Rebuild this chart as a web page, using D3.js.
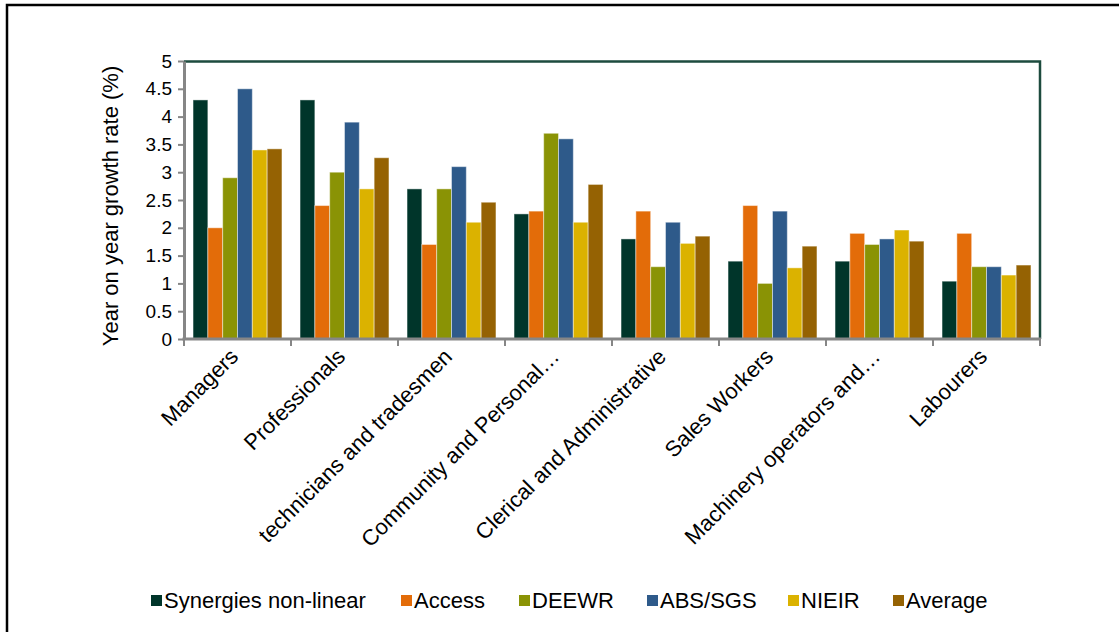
<!DOCTYPE html>
<html>
<head>
<meta charset="utf-8">
<script src="https://cdn.jsdelivr.net/npm/d3@7"></script>
<style>
  body { margin: 0; background: #fff; }
  text { font-family: "Liberation Sans", Arial, sans-serif; fill: #000; }
</style>
</head>
<body>
<div id="chart"></div>
<script>
// Data
const categories = ["Managers", "Professionals", "technicians and tradesmen", "Community and Personal\u2026",
                    "Clerical and Administrative", "Sales Workers", "Machinery operators and\u2026", "Labourers"];
const seriesNames = ["Synergies non-linear", "Access", "DEEWR", "ABS/SGS", "NIEIR", "Average"];
const synergies = [4.3, 4.3, 2.7, 2.25, 1.8, 1.4, 1.4, 1.04];
const access    = [2.0, 2.4, 1.7, 2.3, 2.3, 2.4, 1.9, 1.9];
const deewr     = [2.9, 3.0, 2.7, 3.7, 1.3, 1.0, 1.7, 1.3];
const absSgs    = [4.5, 3.9, 3.1, 3.6, 2.1, 2.3, 1.8, 1.3];
const nieir     = [3.4, 2.7, 2.1, 2.1, 1.72, 1.28, 1.96, 1.15];
const average   = [3.42, 3.26, 2.46, 2.78, 1.85, 1.67, 1.76, 1.33];
const yTicks = [0, 0.5, 1, 1.5, 2, 2.5, 3, 3.5, 4, 4.5, 5];
const colors = ["#00352a", "#e36c09", "#8a9305", "#2e5a8a", "#dbb200", "#956203"];

const seriesValues = [synergies, access, deewr, absSgs, nieir, average];

// Set the dimensions and margins of the graph
const W = 1119, H = 632;
const margin = {top: 61, right: 79, bottom: 293, left: 184},
    width = W - margin.left - margin.right,
    height = H - margin.top - margin.bottom;

const root = d3.select("#chart")
  .append("svg")
    .attr("width", W)
    .attr("height", H);

// Outer frame
root.append("rect")
    .attr("x", 7).attr("y", 5)
    .attr("width", W + 20).attr("height", H + 20)
    .attr("fill", "none")
    .attr("stroke", "#000")
    .attr("stroke-width", 2.5);

const svg = root.append("g")
    .attr("transform", `translate(${margin.left},${margin.top})`);

// Scales
const x = d3.scaleBand().domain(categories).range([0, width]).padding(0);
const xInner = d3.scaleBand().domain(seriesNames)
    .range([0, x.bandwidth()]).paddingOuter(0.61).paddingInner(0);
const y = d3.scaleLinear().domain([0, 5]).range([height, 0]);

// Plot frame (top and right in dark green)
svg.append("path")
    .attr("d", `M0,0.5H${width}V${height}`)
    .attr("fill", "none")
    .attr("stroke", "#1d4b3e")
    .attr("stroke-width", 2.5);

// Bars
seriesNames.forEach((name, si) => {
    svg.append("g")
      .selectAll("rect")
      .data(seriesValues[si])
      .join("rect")
        .attr("x", (d, i) => x(categories[i]) + xInner(name))
        .attr("y", d => y(d))
        .attr("width", xInner.bandwidth())
        .attr("height", d => height - y(d))
        .attr("fill", colors[si])
        .attr("stroke", "rgba(255,255,255,0.45)")
        .attr("stroke-width", 1);
});

// Y axis
const yAxis = svg.append("g")
    .call(d3.axisLeft(y).tickValues(yTicks).tickFormat(d3.format("~g")).tickSize(6).tickSizeOuter(0).tickPadding(6));
yAxis.select(".domain").attr("stroke", "#868686").attr("stroke-width", 3);
yAxis.selectAll(".tick line").attr("stroke", "#868686").attr("stroke-width", 2);
yAxis.selectAll(".tick text").style("font-size", "19px").attr("fill", "#000");

// X axis (ticks at category boundaries)
const xAxisG = svg.append("g").attr("transform", `translate(0,${height})`);
xAxisG.append("line")
    .attr("x1", -1.5).attr("x2", width + 1)
    .attr("stroke", "#868686").attr("stroke-width", 3);
xAxisG.selectAll(".xtick")
  .data(categories.concat(["end"]))
  .join("line")
    .attr("class", "xtick")
    .attr("x1", (d, i) => i < categories.length ? x(d) : width)
    .attr("x2", (d, i) => i < categories.length ? x(d) : width)
    .attr("y1", 0).attr("y2", 7)
    .attr("stroke", "#868686").attr("stroke-width", 2);

xAxisG.selectAll(".xlabel")
  .data(categories)
  .join("text")
    .attr("class", "xlabel")
    .attr("text-anchor", "end")
    .attr("transform", d => `translate(${x(d) + x.bandwidth() / 2 + 2},${19}) rotate(-45)`)
    .style("font-size", "22px")
    .text(d => d);

// Y axis label
svg.append("text")
    .attr("text-anchor", "middle")
    .attr("transform", "rotate(-90)")
    .attr("x", -145)
    .attr("y", -66)
    .style("font-size", "22px")
    .text("Year on year growth rate (%)");

// Legend
const legendX = [151, 401, 519, 647, 788, 893];
const legend = root.append("g").attr("transform", "translate(0,600)");
seriesNames.forEach((name, i) => {
    legend.append("rect")
        .attr("x", legendX[i]).attr("y", -5)
        .attr("width", 11).attr("height", 11)
        .attr("fill", colors[i]);
    legend.append("text")
        .attr("x", legendX[i] + 13)
        .attr("y", 0)
        .attr("dy", "0.35em")
        .style("font-size", "22px")
        .text(name);
});
</script>
</body>
</html>
